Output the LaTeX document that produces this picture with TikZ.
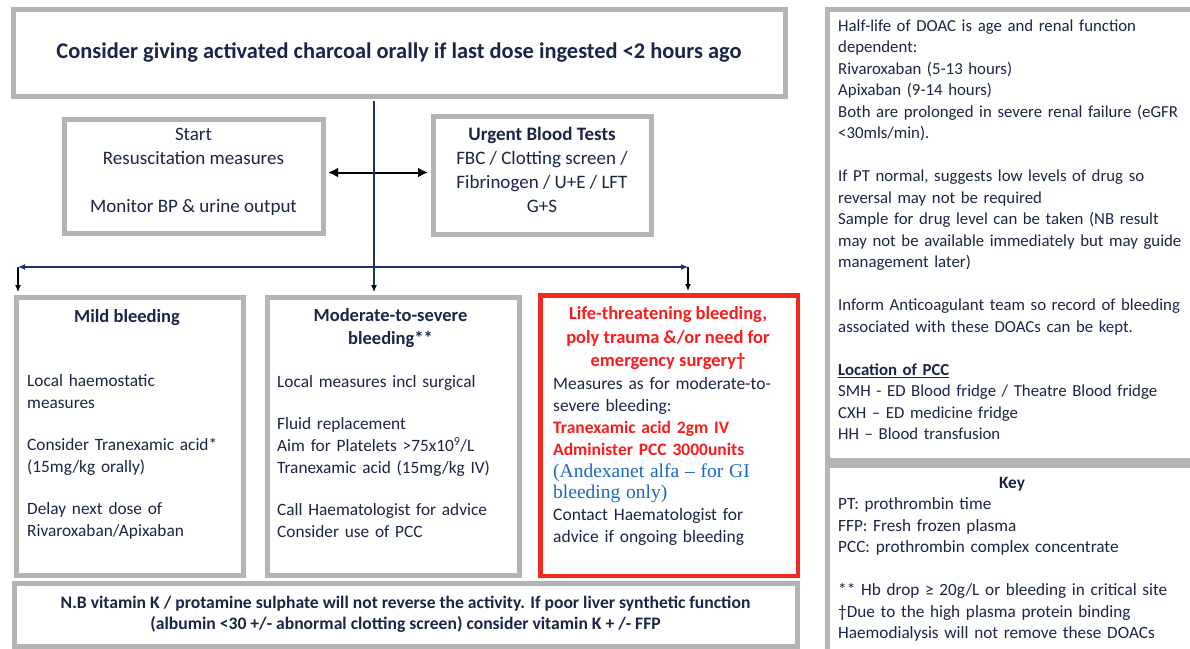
\documentclass[tikz,border=0pt]{standalone}
\usepackage{fontspec}
\setmainfont{Carlito}
\newfontfamily\andexfont{Liberation Serif}
\usetikzlibrary{arrows.meta}

\definecolor{framegray}{RGB}{180,180,180}
\definecolor{framered}{RGB}{240,42,30}
\definecolor{inknavy}{RGB}{26,37,72}
\definecolor{linknavy}{RGB}{28,48,105}
\definecolor{alertred}{RGB}{250,28,28}
\definecolor{andexblue}{RGB}{25,105,195}

\newcommand{\redline}[1]{\textcolor{alertred}{\bfseries #1}}
\newcommand{\blueline}[1]{\textcolor{andexblue}{\andexfont\fontsize{19.5}{21.7}\selectfont #1}}

\begin{document}
\begin{tikzpicture}[x=1pt,y=-1pt,
        graybox/.style={draw=framegray, line width=5pt, fill=white, anchor=north west,
            inner sep=0pt, text=inknavy, align=center},
        redbox/.style={draw=framered, line width=4.5pt, fill=white, anchor=north west, inner sep=0pt},
        body/.style={anchor=north west, inner sep=0pt, text width=400pt, align=left, text=inknavy,
            font=\fontsize{17.3}{22}\selectfont},
        title/.style={anchor=north, inner sep=0pt, align=center, text=inknavy,
            font=\fontsize{18.5}{23.5}\selectfont\bfseries},
        inbox/.style={inner sep=0pt, align=center, text=inknavy, font=\fontsize{19}{24}\selectfont},
        trunk/.style={draw=linknavy, line width=1.2pt},
        tip/.style={-{Latex[length=7pt,width=6pt,color=black]}}]

    \fill[white] (0,0) rectangle (1190,648);
    \useasboundingbox (0,0) rectangle (1190,648);
    \clip (0,0) rectangle (1190,648);

    % boxes
    \node[graybox, minimum width=772pt, minimum height=87pt, font=\fontsize{22.4}{26}\selectfont\bfseries]
        (charcoal) at (10.5,6.5) {Consider giving activated charcoal orally if last dose ingested <2 hours ago};
    \node[graybox, minimum width=259pt, minimum height=114pt] (resus) at (61.5,116.5) {};
    \node[graybox, minimum width=218pt, minimum height=118pt] (bloods) at (430.5,113.5) {};
    \node[graybox, minimum width=227pt, minimum height=278pt] (mild) at (13.5,294.5) {};
    \node[graybox, minimum width=252pt, minimum height=278pt] (moderate) at (264.5,294.5) {};
    \node[redbox, minimum width=257.5pt, minimum height=280.5pt] (severe) at (538.25,293.25) {};
    \node[graybox, minimum width=783pt, minimum height=63pt, font=\fontsize{17.6}{21}\selectfont\bfseries]
        (note) at (11.5,580.5) {N.B vitamin K / protamine sulphate will not reverse the activity. If poor liver synthetic function\\(albumin <30 +/- abnormal clotting screen) consider vitamin K + /- FFP};
    \node[graybox, minimum width=400pt, minimum height=451pt] (info) at (824.5,6.5) {};
    \node[graybox, minimum width=400pt, minimum height=190pt] (key) at (824.5,462.5) {};

    % texts inside the boxes
    \node[inbox] (resus text) at ([yshift=4pt]resus.center) {Start\\Resuscitation measures\\[24pt]Monitor BP \& urine output};
    \node[inbox] (bloods text) at ([yshift=5pt]bloods.center) {\textbf{Urgent Blood Tests}\\FBC / Clotting screen /\\Fibrinogen / U+E / LFT\\G+S};

    \node[title] (mild title) at (127,309.5) {Mild bleeding};
    \node[body] (mild text) at (27,374.5) {Local haemostatic\\measures\\[20pt]Consider Tranexamic acid*\\(15mg/kg orally)\\[20pt]Delay next dose of\\Rivaroxaban/Apixaban};

    \node[title] (moderate title) at (390.5,308) {Moderate-to-severe\\bleeding**};
    \node[body] (moderate text) at (277,375.5) {Local measures incl surgical\\[20pt]Fluid replacement\\Aim for Platelets >75x10\textsuperscript{9}/L\\Tranexamic acid (15mg/kg IV)\\[20pt]Call Haematologist for advice\\Consider use of PCC};

    \node[title, text=alertred] (severe title) at (668,306.5) {Life-threatening bleeding,\\poly trauma \&/or need for\\emergency surgery†};
    \node[body, font=\fontsize{17.5}{21.8}\selectfont] (severe text) at (553,377.5) {Measures as for moderate-to-\\severe bleeding:\\\redline{Tranexamic acid 2gm IV}\\\redline{Administer PCC 3000units}\\\blueline{(Andexanet alfa – for GI}\\\blueline{bleeding only)}\\Contact Haematologist for\\advice if ongoing bleeding};

    \node[body, font=\fontsize{16.8}{21.5}\selectfont] (info text) at (838,19.5) {Half-life of DOAC is age and renal function\\dependent:\\Rivaroxaban (5-13 hours)\\Apixaban (9-14 hours)\\Both are prolonged in severe renal failure (eGFR\\<30mls/min).\\[21.5pt]If PT normal, suggests low levels of drug so\\reversal may not be required\\Sample for drug level can be taken (NB result\\may not be available immediately but may guide\\management later)\\[21.5pt]Inform Anticoagulant team so record of bleeding\\associated with these DOACs can be kept.\\[21.5pt]\underline{\textbf{Location of PCC}}\\SMH - ED Blood fridge / Theatre Blood fridge\\CXH – ED medicine fridge\\HH – Blood transfusion};

    \node[title, font=\fontsize{17.3}{21.5}\selectfont\bfseries] (key title) at (1012,477.5) {Key};
    \node[body, font=\fontsize{17.2}{21.5}\selectfont] (key text) at (838,497.5) {PT: prothrombin time\\FFP: Fresh frozen plasma\\PCC: prothrombin complex concentrate\\[21.5pt]** Hb drop ≥ 20g/L or bleeding in critical site\\†Due to the high plasma protein binding\\Haemodialysis will not remove these DOACs};

    % connectors
    \coordinate (split) at (374,267);
    \coordinate (left drop) at (18,267);
    \coordinate (right drop) at (688,267);

    \draw[black, line width=2pt, {Latex[length=10pt,width=10pt]}-{Latex[length=10pt,width=10pt]},
        shorten <=2.5pt, shorten >=2.5pt] ([yshift=3.5pt]resus.east) -- ([yshift=3.5pt]resus.east -| bloods.west);
    \draw[trunk, tip, shorten <=2.5pt, shorten >=2.5pt] (split |- charcoal.south) -- (split |- moderate.north);
    \draw[trunk, {Latex[length=7pt,width=6pt]}-{Latex[length=7pt,width=6pt]}] (left drop) -- (right drop);
    \draw[black, line width=1.2pt, tip, shorten >=2.5pt] (left drop) -- (left drop |- mild.north);
    \draw[black, line width=1.2pt, tip, shorten >=2.25pt] (right drop) -- (right drop |- severe.north);

\end{tikzpicture}
\end{document}
